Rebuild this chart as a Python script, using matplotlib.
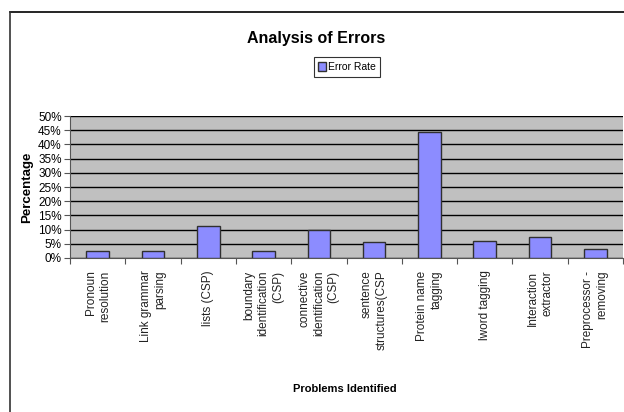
import matplotlib
matplotlib.use("Agg")
import matplotlib.pyplot as plt
from matplotlib.lines import Line2D
import numpy as np

categories = [
    "Pronoun\nresolution",
    "Link grammar\nparsing",
    "lists (CSP)",
    "boundary\nidentification\n(CSP)",
    "connective\nidentification\n(CSP)",
    "sentence\nstructures(CSP",
    "Protein name\ntagging",
    "lword tagging",
    "Interaction\nextractor",
    "Preprocessor -\nremoving",
]
error_rate = [2.5, 2.5, 11.4, 2.5, 9.8, 5.6, 44.5, 6.0, 7.5, 3.2]
yticks = np.arange(0, 51, 5)

plt.rcParams["font.family"] = ["Liberation Sans", "DejaVu Sans"]

W, H = 624, 412
fig = plt.figure(figsize=(W / 100, H / 100), dpi=100)
# plot area in pixel coords
left, right, top, bottom = 70, 623, 116, 258
ax = fig.add_axes([left / W, 1 - bottom / H, (right - left) / W, (bottom - top) / H])
ax.set_facecolor("#c0c0c0")

x = np.arange(len(categories))
bars = ax.bar(x, error_rate, width=0.41, color="#8c8cff", edgecolor="#303030",
              linewidth=1.0, zorder=3, label="Error Rate")
ax.set_xlim(-0.5, len(categories) - 0.5)
ax.set_ylim(0, 50)
ax.set_yticks(yticks)
ax.set_yticklabels([f"{v}%" for v in yticks], fontsize=8.5)
ax.yaxis.grid(True, color="black", linewidth=1.0, zorder=1)
ax.set_axisbelow(True)

# ticks between categories, labels at centers
ax.set_xticks(np.arange(len(categories) + 1) - 0.5)
ax.set_xticklabels([])
ax.set_xticks(x, minor=True)
ax.set_xticklabels(categories, minor=True, rotation=90, fontsize=8.5, linespacing=1.25,
                   va="top", ha="center", multialignment="right", color="#222222")
ax.tick_params(axis="x", which="minor", length=0, pad=9)
ax.tick_params(axis="x", which="major", length=4, color="#555555")
ax.tick_params(axis="y", length=4, pad=2, color="#555555")

for side in ["top", "right"]:
    ax.spines[side].set_visible(False)
ax.spines["left"].set_color("#555555")
ax.spines["bottom"].set_color("#555555")

fig.text(316 / W, 1 - 39 / H, "Analysis of Errors", ha="center", va="center",
         fontsize=11.5, fontweight="bold")
fig.text(345 / W, 1 - 389 / H, "Problems Identified", ha="center", va="center",
         fontsize=8, fontweight="bold")
fig.text(27 / W, 1 - 187 / H, "Percentage", ha="center", va="center",
         rotation=90, fontsize=9.5, fontweight="bold")

leg = fig.legend(handles=[bars], labels=["Error Rate"], loc="center",
                 bbox_to_anchor=(347 / W, 1 - 67 / H), frameon=True, fancybox=False,
                 edgecolor="black", handlelength=0.7, handleheight=1.0,
                 handletextpad=0.2, borderpad=0.45, prop={"size": 7.5})
leg.get_frame().set_linewidth(0.8)

# outer chart border
fig.add_artist(Line2D([10 / W, 1], [1 - 12 / H, 1 - 12 / H], color="black", linewidth=1.2))
fig.add_artist(Line2D([10 / W, 10 / W], [0, 1 - 12 / H], color="#333333", linewidth=1.2))

fig.savefig("out.png", dpi=100)
